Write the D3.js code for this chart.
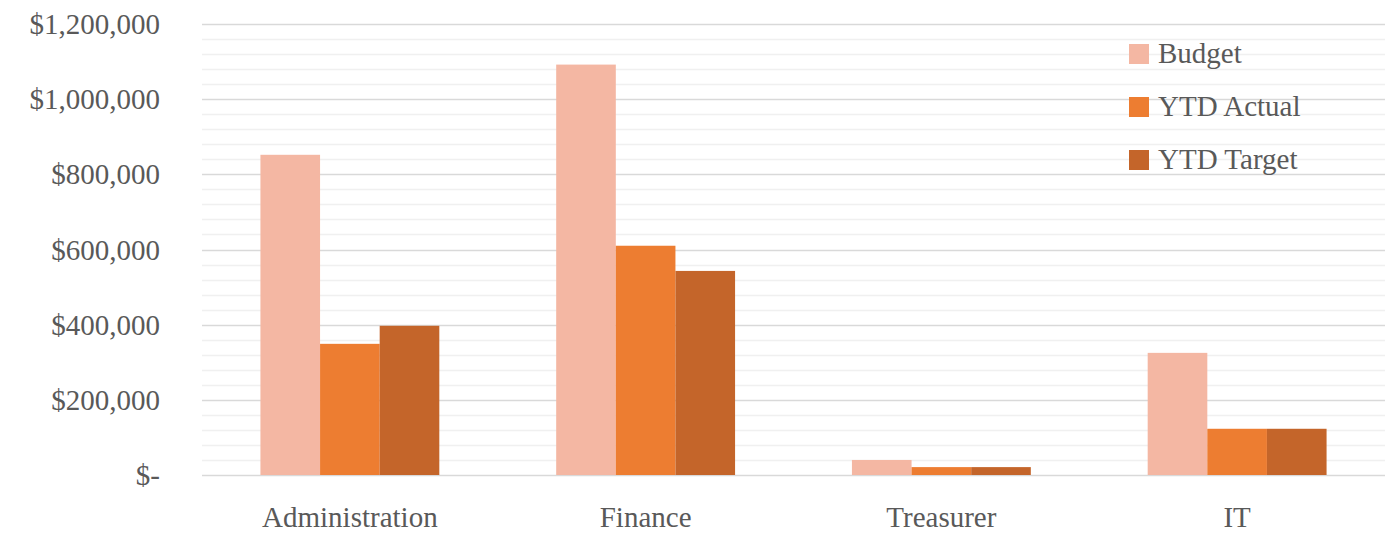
<!DOCTYPE html>
<html>
<head>
<meta charset="utf-8">
<script src="https://cdn.jsdelivr.net/npm/d3@7"></script>
<style>
  body { margin: 0; background: #fff; }
  svg text { font-family: "Palatino Linotype", "Book Antiqua", Palatino, "Liberation Serif", serif; fill: #595959; }
</style>
</head>
<body>
<svg id="chart"></svg>
<script>
// data
const categories = ["Administration", "Finance", "Treasurer", "IT"];
const seriesNames = ["Budget", "YTD Actual", "YTD Target"];
const budget = [852000, 1092000, 40000, 325000];
const ytdActual = [349000, 610000, 21000, 123000];
const ytdTarget = [397000, 543000, 21000, 123000];
const yTicks = [0, 200000, 400000, 600000, 800000, 1000000, 1200000];

const seriesValues = [budget, ytdActual, ytdTarget];
const colors = ["#F4B7A3", "#ED7D31", "#C4652A"];

const W = 1394, H = 534;
const plot = { left: 202, right: 1385, top: 24, bottom: 475 };
const fontSize = "29px";

const svg = d3.select("#chart").attr("width", W).attr("height", H);

const x0 = d3.scaleBand().domain(categories).range([plot.left, plot.right]).padding(0);
const x1 = d3.scaleBand().domain(seriesNames).range([0, x0.bandwidth()])
    .paddingInner(0).paddingOuter(0.98);
const y = d3.scaleLinear().domain([0, 1200000]).range([plot.bottom, plot.top]);

// minor gridlines every 40k
const minor = d3.range(0, 1200001, 40000).filter(v => v % 200000 !== 0);
svg.append("g").selectAll("line").data(minor).join("line")
    .attr("x1", plot.left).attr("x2", plot.right)
    .attr("y1", d => Math.round(y(d)) + 0.5).attr("y2", d => Math.round(y(d)) + 0.5)
    .attr("stroke", "#f0f0f0").attr("stroke-width", 1.3);

// major gridlines
svg.append("g").selectAll("line").data(yTicks).join("line")
    .attr("x1", plot.left).attr("x2", plot.right)
    .attr("y1", d => Math.round(y(d)) + 0.5).attr("y2", d => Math.round(y(d)) + 0.5)
    .attr("stroke", "#d9d9d9").attr("stroke-width", 1.3);

// y labels
const fmt = d => d === 0 ? "$-" : "$" + d3.format(",")(d);
svg.append("g").selectAll("text").data(yTicks).join("text")
    .attr("x", 160).attr("y", d => y(d) + 10)
    .attr("text-anchor", "end")
    .style("font-size", fontSize)
    .text(fmt);

// bars
const groups = svg.append("g").selectAll("g").data(categories).join("g")
    .attr("transform", d => `translate(${x0(d)},0)`);

groups.selectAll("rect")
    .data((c, i) => seriesNames.map((s, j) => ({ series: s, value: seriesValues[j][i], j })))
    .join("rect")
    .attr("x", d => x1(d.series))
    .attr("width", x1.bandwidth())
    .attr("y", d => y(d.value))
    .attr("height", d => y(0) - y(d.value))
    .attr("fill", d => colors[d.j]);

// x labels
svg.append("g").selectAll("text").data(categories).join("text")
    .attr("x", d => x0(d) + x0.bandwidth() / 2)
    .attr("y", 527)
    .attr("text-anchor", "middle")
    .style("font-size", fontSize)
    .text(d => d);

// legend
const legend = svg.append("g").selectAll("g").data(seriesNames).join("g")
    .attr("transform", (d, i) => `translate(1129, ${54 + i * 53})`);
legend.append("rect")
    .attr("x", 0).attr("y", -10).attr("width", 20).attr("height", 20)
    .attr("fill", (d, i) => colors[i]);
legend.append("text")
    .attr("x", 29).attr("y", 9)
    .style("font-size", fontSize)
    .text(d => d);
</script>
</body>
</html>
